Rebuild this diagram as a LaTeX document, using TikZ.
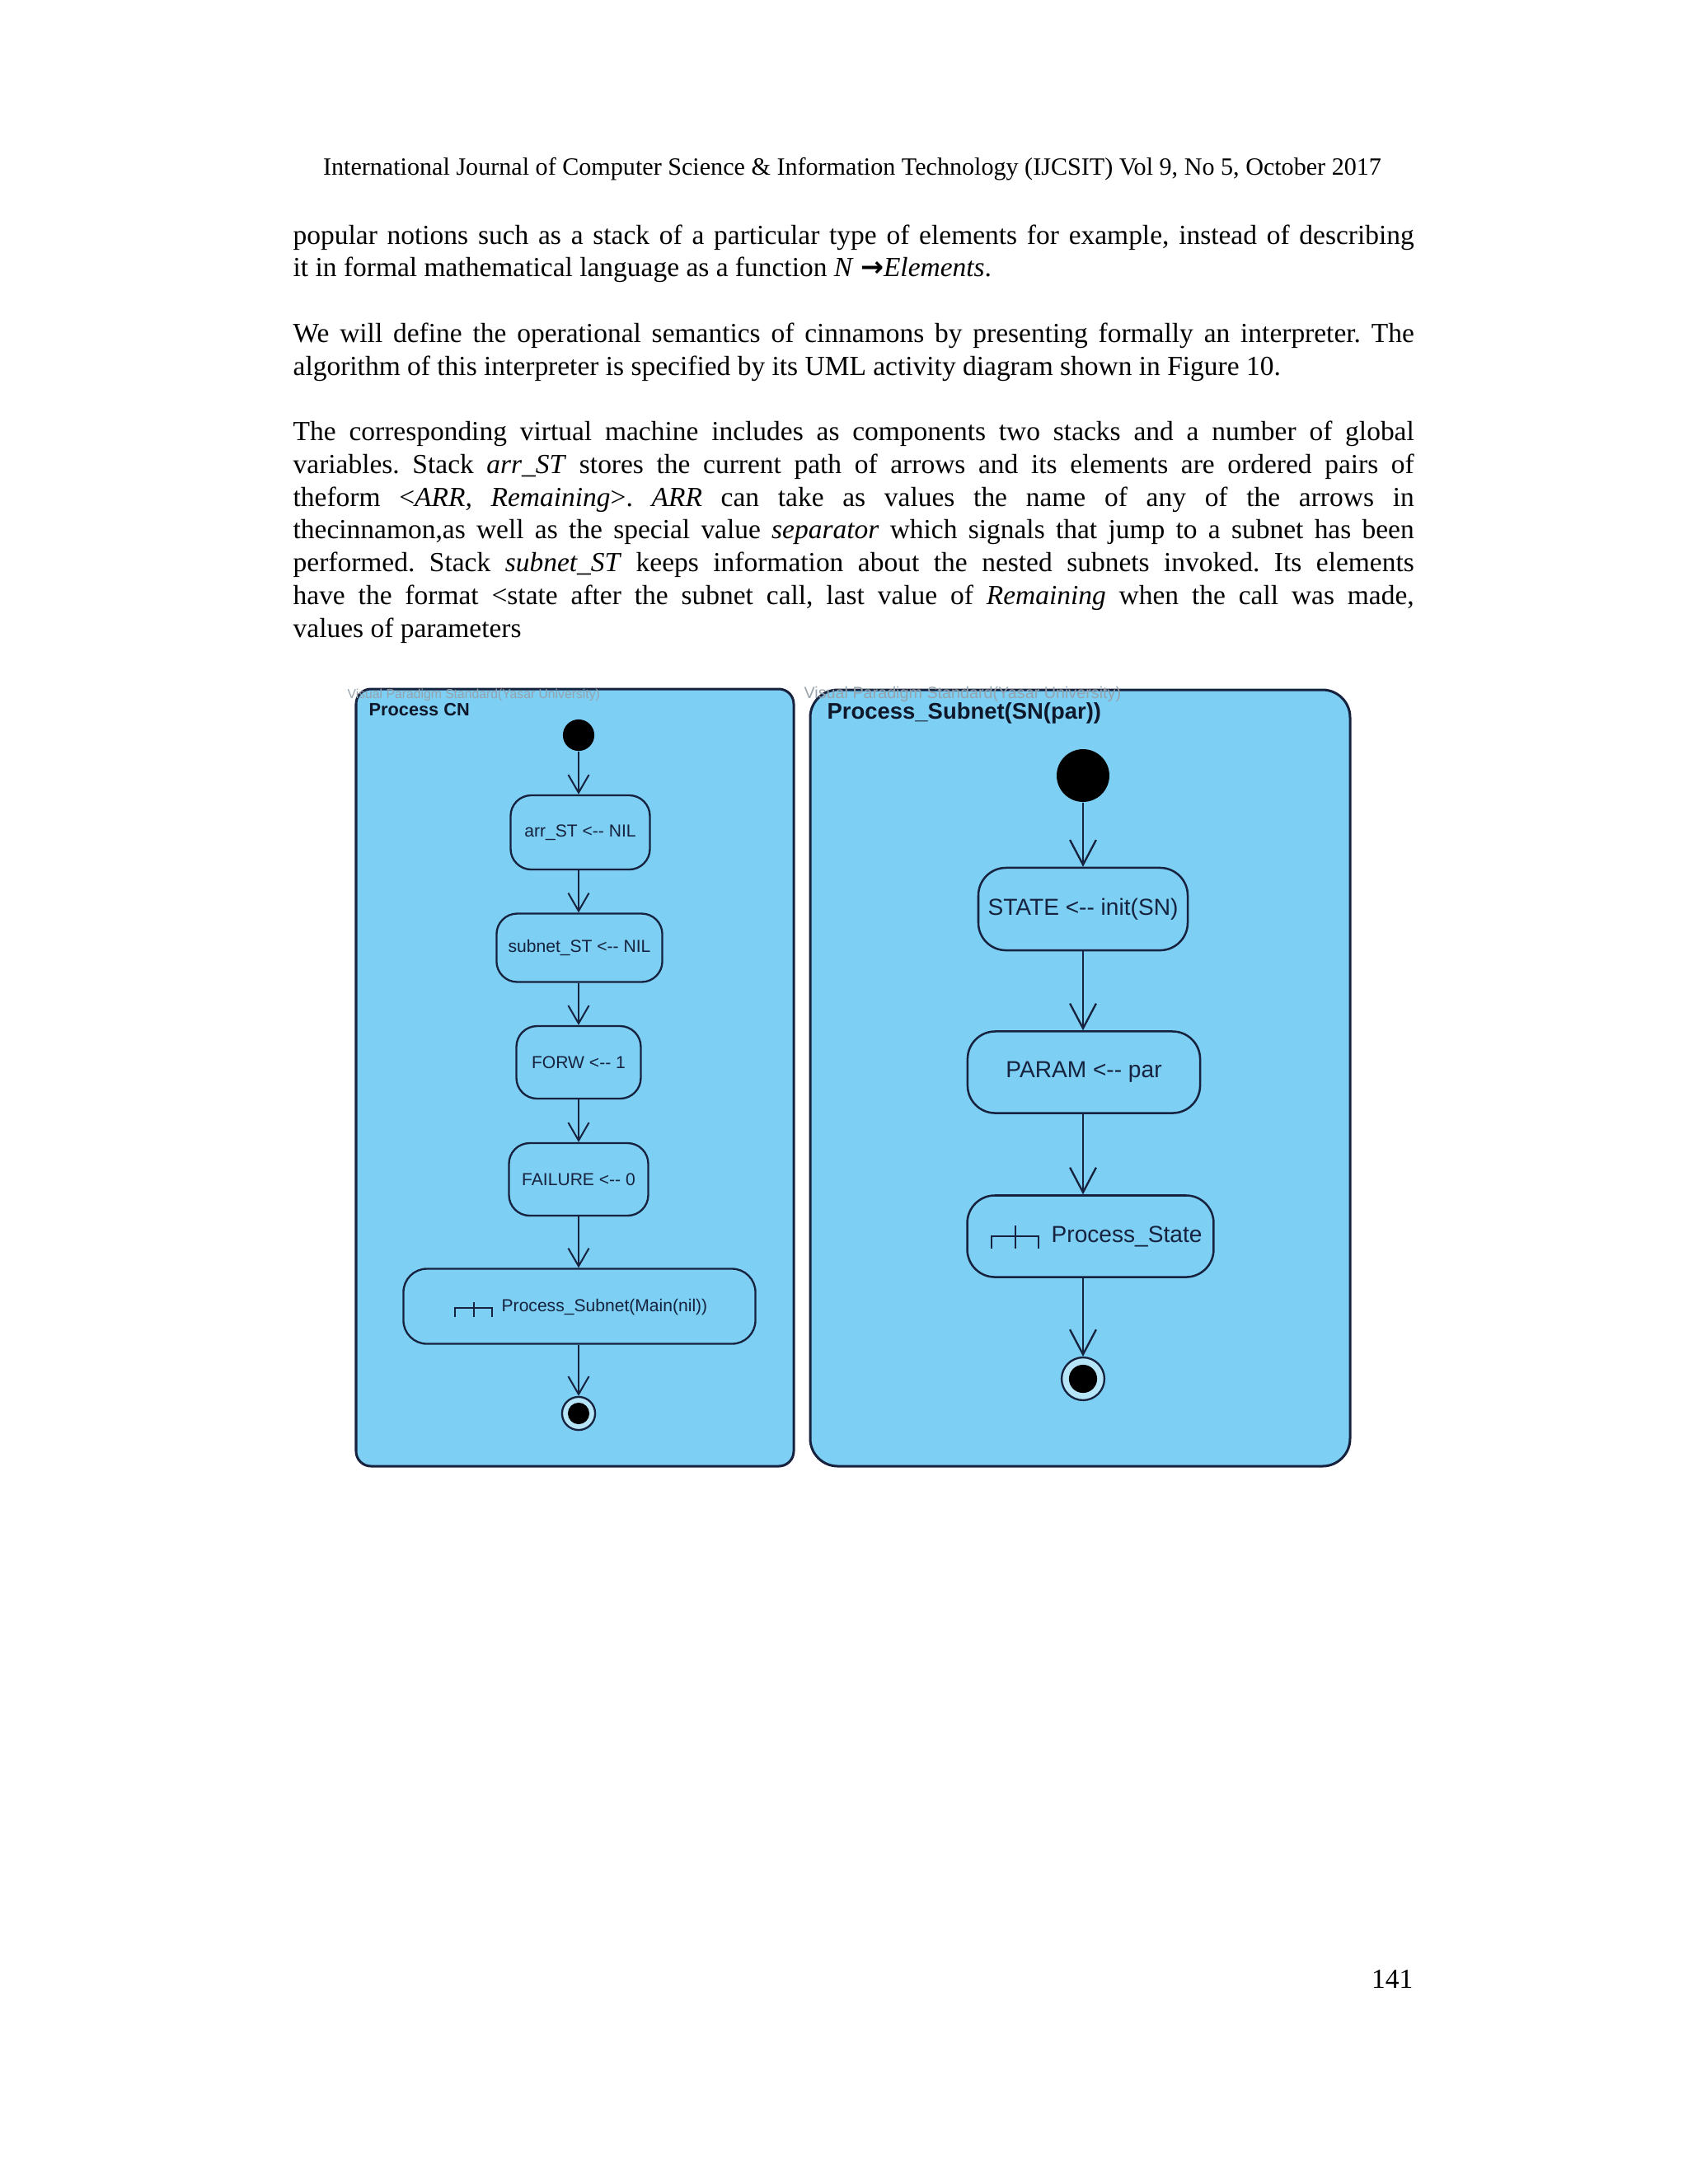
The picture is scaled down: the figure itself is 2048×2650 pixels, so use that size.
\documentclass[tikz,border=0pt]{standalone}
\usepackage{fontspec}
\setmainfont{Liberation Serif}
\newfontfamily\dgsans{Liberation Sans}
\newfontfamily\dgarrowfont{DejaVu Sans}
\usetikzlibrary{arrows.meta}
\definecolor{panelblue}{RGB}{125,207,243}
\definecolor{ink}{RGB}{22,34,62}
\definecolor{wmgray}{RGB}{150,162,172}
\newcommand\jline[1]{\makebox[406.4pt][s]{#1}}
\frenchspacing
\begin{document}
\begin{tikzpicture}[x=0.2988pt,y=-0.2988pt,
  txt/.style={inner sep=0pt,anchor=base west,font=\fontsize{10}{11.88}\selectfont},
  panelbox/.style={draw=ink,line width=0.9pt,fill=panelblue},
  lbox/.style={draw=ink,line width=0.7pt,rounded corners=7.5pt,inner sep=0pt,text=ink,font=\dgsans\fontsize{6.3}{7.5}\selectfont},
  rbox/.style={draw=ink,line width=0.75pt,rounded corners=10pt,inner sep=0pt,text=ink,font=\dgsans\fontsize{8.4}{10}\selectfont},
  ltext/.style={inner sep=0pt,anchor=west,text=ink,font=\dgsans\fontsize{6.3}{7.5}\selectfont},
  rtext/.style={inner sep=0pt,anchor=west,text=ink,font=\dgsans\fontsize{8.4}{10}\selectfont},
  startdot/.style={circle,fill=black,inner sep=0pt},
  enddot/.style={circle,draw=ink,line width=0.7pt,fill=white!45!panelblue,inner sep=0pt},
  lflow/.style={draw=ink,line width=0.6pt,-{Straight Barb[length=6.5pt,width=7.5pt]}},
  rflow/.style={draw=ink,line width=0.7pt,-{Straight Barb[length=9pt,width=9.5pt]}},
  calllink/.style={draw=ink,line width=0.6pt},
  watermark/.style={inner sep=0pt,anchor=west,text=wmgray},
  paneltitle/.style={inner sep=0pt,anchor=west,text=ink!70!black,font=\dgsans\bfseries}
]
\useasboundingbox[fill=white] (0,0) rectangle (2048,2650);

% ---------- page text ----------
\node[txt,anchor=base,font=\fontsize{9}{11}\selectfont] (head) at (1034,212) {International Journal of Computer Science \& Information Technology (IJCSIT) Vol 9, No 5, October 2017};

\node[txt] (l0) at (355,296) {\jline{popular notions such as a stack of a particular type of elements for example, instead of describing}};
\node[txt] (l1) at (355,335.75) {it in formal mathematical language as a function \textit{N} {\dgarrowfont\bfseries\fontsize{10}{11}\selectfont →}\textit{Elements}.};

\node[txt] (l3) at (355,415.25) {\jline{We will define the operational semantics of cinnamons by presenting formally an interpreter. The}};
\node[txt] (l4) at (355,455) {algorithm of this interpreter is specified by its UML activity diagram shown in Figure 10.};

\node[txt] (l6) at (355,534.5) {\jline{The corresponding virtual machine includes as components two stacks and a number of global}};
\node[txt] (l7) at (355,574.25) {\jline{variables. Stack \textit{arr\_ST} stores the current path of arrows and its elements are ordered pairs of}};
\node[txt] (l8) at (355,614) {\jline{theform <\textit{ARR, Remaining}>. \textit{ARR} can take as values the name of any of the arrows in}};
\node[txt] (l9) at (355,653.75) {\jline{thecinnamon,as well as the special value \textit{separator} which signals that jump to a subnet has been}};
\node[txt] (l10) at (355,693.5) {\jline{performed. Stack \textit{subnet\_ST} keeps information about the nested subnets invoked. Its elements}};
\node[txt] (l11) at (355,733.25) {\jline{have the format <state after the subnet call, last value of \textit{Remaining} when the call was made,}};
\node[txt] (l12) at (355,773) {values of parameters};

\node[txt,anchor=base east] (pageno) at (1715,2412) {141};

% ---------- left panel: Process CN ----------
\draw[panelbox,rounded corners=5.4pt] (432,836) rectangle (963,1779);
\node[watermark,font=\dgsans\fontsize{4.7}{5}\selectfont] (lwm) at (421,843) {Visual Paradigm Standard(Yasar University)};
\node[paneltitle,font=\dgsans\bfseries\fontsize{6.5}{7}\selectfont] (ltitle) at (447,861) {Process CN};

\node[startdot,minimum size=11.4pt] (lstart) at (702,892) {};
\node[lbox,minimum width=50.5pt,minimum height=26.9pt] (larr) at (704,1010) {arr\_ST <-{}- NIL};
\node[lbox,minimum width=60.1pt,minimum height=24.8pt] (lsub) at (703,1150) {subnet\_ST <-- NIL};
\node[lbox,minimum width=45.1pt,minimum height=26.3pt] (lforw) at (702,1289) {FORW <-{}- 1};
\node[lbox,minimum width=50.5pt,minimum height=26.3pt] (lfail) at (702,1431) {FAILURE <-{}- 0};
\node[lbox,minimum width=127.6pt,minimum height=27.2pt,rounded corners=8.5pt] (lproc) at (703,1585) {};
\node[ltext] (lproctext) at (608,1586) {Process\_Subnet(Main(nil))};
\draw[calllink] (552,1598) -- (552,1587) -- (597,1587) -- (597,1598) (575,1580) -- (575,1598);
\node[enddot,minimum size=12pt] (lend) at (702,1715) {};
\fill[black] (lend.center) circle (3.9pt);

\draw[lflow] (lstart) -- (lstart |- larr.north);
\draw[lflow] (larr.south -| lstart) -- (lstart |- lsub.north);
\draw[lflow] (lsub.south -| lstart) -- (lstart |- lforw.north);
\draw[lflow] (lforw.south -| lstart) -- (lstart |- lfail.north);
\draw[lflow] (lfail.south -| lstart) -- (lstart |- lproc.north);
\draw[lflow] (lproc.south -| lend) -- (lend);

% ---------- right panel: Process_Subnet(SN(par)) ----------
\draw[panelbox,rounded corners=10pt] (983,837) rectangle (1638,1779);
\node[watermark,font=\dgsans\fontsize{5.9}{6.5}\selectfont] (rwm) at (975,842) {Visual Paradigm Standard(Yasar University)};
\node[paneltitle,font=\dgsans\bfseries\fontsize{8.2}{9}\selectfont] (rtitle) at (1003,865) {Process\_Subnet(SN(par))};

\node[startdot,minimum size=19.1pt] (rstart) at (1314,941) {};
\node[rbox,minimum width=75.9pt,minimum height=29.9pt] (rstate) at (1314,1103) {STATE <-{}- init(SN)};
\node[rbox,minimum width=84.3pt,minimum height=29.6pt] (rparam) at (1315,1301) {PARAM <-- par};
\node[rbox,minimum width=89.3pt,minimum height=29.6pt] (rproc) at (1323,1500) {};
\node[rtext] (rproctext) at (1275,1500) {Process\_State};
\draw[calllink,line width=0.7pt] (1203,1515) -- (1203,1500) -- (1260,1500) -- (1260,1515) (1232,1487) -- (1232,1515);
\node[enddot,minimum size=15.5pt] (rend) at (1314,1673) {};
\fill[black] (rend.center) circle (5.1pt);

\draw[rflow] (rstart) -- (rstart |- rstate.north);
\draw[rflow] (rstate.south -| rstart) -- (rstart |- rparam.north);
\draw[rflow] (rparam.south -| rstart) -- (rstart |- rproc.north);
\draw[rflow] (rproc.south -| rend) -- (rend);
\end{tikzpicture}
\end{document}
